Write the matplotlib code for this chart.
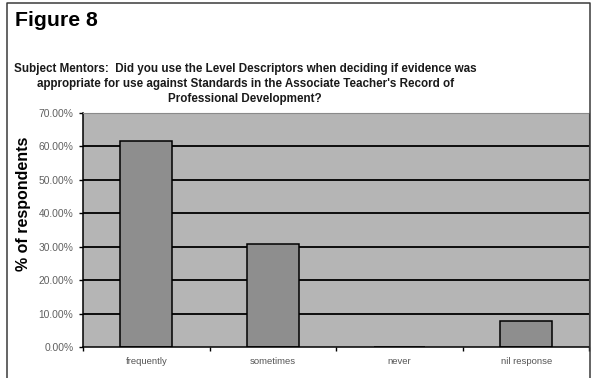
import numpy as np
import matplotlib.pyplot as plt
from matplotlib.lines import Line2D

plt.rcParams['font.family'] = ['Liberation Sans', 'DejaVu Sans']

categories = ["frequently", "sometimes", "never", "nil response"]
pct = [61.54, 30.77, 0.0, 7.69]
yticks = [0, 10, 20, 30, 40, 50, 60, 70]
title = "Figure 8"
question = ("Subject Mentors:  Did you use the Level Descriptors when deciding if evidence was\n"
            "appropriate for use against Standards in the Associate Teacher's Record of\n"
            "Professional Development?")

fig = plt.figure(figsize=(5.91, 3.78), dpi=100)
fig.patch.set_facecolor("white")

# frame round the figure (open at the bottom)
fx = [0.012, 0.012, 0.9975, 0.9975]
fy = [0.0, 0.991, 0.991, 0.0]
fig.add_artist(Line2D(fx, fy, transform=fig.transFigure, color="#3a3a3a", lw=1.1))

fig.text(0.025, 0.947, title, fontsize=15.3, fontweight="bold", va="center", ha="left")
fig.text(0.415, 0.778, question, fontsize=8.4, fontweight="bold", ha="center", va="center",
         linespacing=1.32, color="#1a1a1a")

ax = fig.add_axes([0.1404, 0.082, 0.857, 0.619])
ax.set_facecolor("#b5b5b5")
x = np.arange(len(categories))
ax.set_xlim(-0.5, len(categories) - 0.5)
ax.set_ylim(0, 70)

for v in yticks[1:-1]:
    ax.axhline(v, color="black", lw=1.3, zorder=1)

ax.bar(x, pct, width=0.41, color="#8e8e8e", edgecolor="black", lw=1.1, zorder=2)

ax.set_yticks(yticks)
ax.set_yticklabels(["%.2f%%" % v for v in yticks], fontsize=7.4, color="#606060")
ax.set_xticks(x)
ax.set_xticklabels(categories, fontsize=6.8, color="#555555")
ax.set_xticks(np.arange(len(categories) + 1) - 0.5, minor=True)
ax.tick_params(axis="x", which="major", length=0, pad=7)
ax.tick_params(axis="x", which="minor", length=3, width=1, direction="out")
ax.tick_params(axis="y", length=3, width=1, direction="out", pad=4)

ax.set_ylabel("% of respondents", fontsize=11.5, fontweight="bold")
ax.yaxis.set_label_coords(-0.103, 0.61)

for s in ["left", "bottom"]:
    ax.spines[s].set_color("black")
    ax.spines[s].set_linewidth(1.1)
ax.spines["top"].set_color("#8a8a8a")
ax.spines["right"].set_color("#3a3a3a")

fig.savefig("out.png", dpi=100)
